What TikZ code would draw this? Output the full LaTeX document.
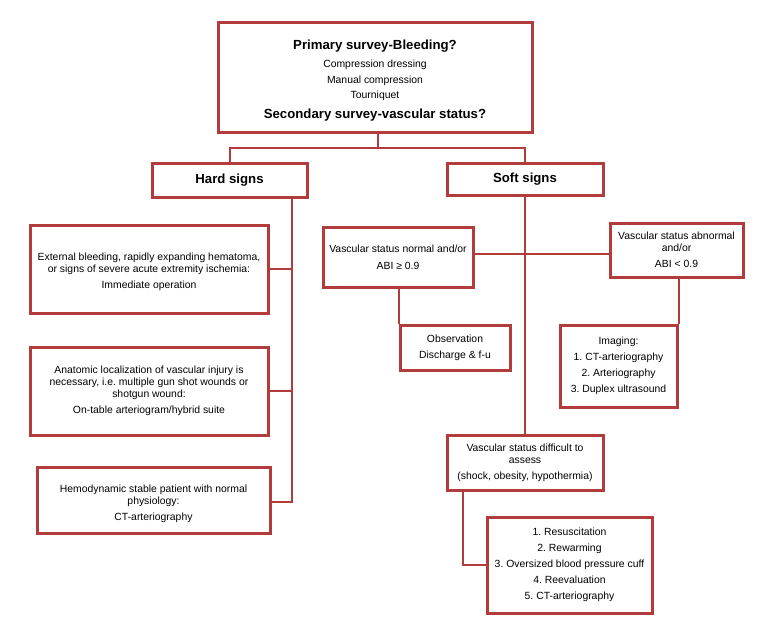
\documentclass[tikz,border=0pt]{standalone}
\usepackage{fontspec}
\setmainfont{Liberation Sans}
\usetikzlibrary{shadows}
\definecolor{boxred}{RGB}{178,60,60}
\newcommand\bodyf{\fontsize{10.4}{12}\selectfont\frenchspacing}
\newcommand\headf{\fontsize{13.2}{15}\selectfont\bfseries}
\tikzset{
  box/.style={draw=boxred, line width=3pt, fill=white, align=center, inner sep=0pt,
    font=\bodyf, drop shadow={shadow xshift=1.2pt, shadow yshift=-1.5pt, fill=black, opacity=0.35}},
  link/.style={draw=boxred, line width=2pt}
}
\begin{document}
\begin{tikzpicture}[x=1pt,y=-1pt]
\useasboundingbox (0,0) rectangle (763,635);
\coordinate (j1) at (378,148);
\coordinate (hb) at (292,502);
\coordinate (hl) at (525,254);
\coordinate (dc) at (463,565);

% boxes
\node[box, minimum width=314pt, minimum height=110pt] (top) at (375,77)
  {\rule{0pt}{17.5pt}{\headf Primary survey-Bleeding?}\\[6pt]
   Compression dressing\\[3.5pt]
   Manual compression\\[3.5pt]
   Tourniquet\\[8pt]
   {\headf Secondary survey-vascular status?}};
\node[box, minimum width=155pt, minimum height=34pt] (hard) at (229.5,180) {\headf Hard signs};
\node[box, minimum width=156pt, minimum height=32pt] (soft) at (525,179) {\headf Soft signs};

\node[box, minimum width=238pt, minimum height=88pt] (b1) at (149,269)
  {\rule{0pt}{13.5pt}External bleeding, rapidly expanding hematoma,\\
   or signs of severe acute extremity ischemia:\\[4pt]
   Immediate operation};
\node[box, minimum width=238pt, minimum height=88pt] (b2) at (149,391)
  {Anatomic localization of vascular injury is\\
   necessary, i.e. multiple gun shot wounds or\\
   shotgun wound:\\[4pt]
   On-table arteriogram/hybrid suite};
\node[box, minimum width=233pt, minimum height=66pt] (b3) at (153.5,500)
  {\rule{0pt}{15.5pt}Hemodynamic stable patient with normal\\
   physiology:\\[4pt]
   CT-arteriography};

\node[box, minimum width=150pt, minimum height=60pt] (norm) at (398,257)
  {Vascular status normal and/or\\[5pt]
   ABI \symbol{"2265} 0.9};
\node[box, minimum width=133pt, minimum height=54pt] (abn) at (676.5,250)
  {Vascular status abnormal\\
   and/or\\[4pt]
   ABI < 0.9};
\node[box, minimum width=110pt, minimum height=45pt] (obs) at (455,347.5)
  {Observation\\[4pt]
   Discharge \& f-u};
\node[box, minimum width=117pt, minimum height=82pt] (img) at (618.5,366)
  {Imaging:\\[4pt]
   1. CT-arteriography\\[4pt]
   2. Arteriography\\[4pt]
   3. Duplex ultrasound};
\node[box, minimum width=156pt, minimum height=55pt] (diff) at (525,462.5)
  {Vascular status difficult to\\
   assess\\[4pt]
   (shock, obesity, hypothermia)};
\node[box, minimum width=165pt, minimum height=96pt] (act) at (569.5,565)
  {1. Resuscitation\\[4pt]
   2. Rewarming\\[4pt]
   3. Oversized blood pressure cuff\\[4pt]
   4. Reevaluation\\[4pt]
   5. CT-arteriography};

% connectors
\draw[link] (top.south -| j1) -- (j1);
\draw[link] (hard.north) |- (j1) -| (soft.north);
\draw[link] (hard.south -| hb) -- (hb) -- (hb -| b3.east);
\draw[link] (b1.east) -- (b1.east -| hb);
\draw[link] (b2.east) -- (b2.east -| hb);
\draw[link] (soft.south) -- (diff.north);
\draw[link] (norm.east |- hl) -- (abn.west |- hl);
\draw[link] (norm.south -| obs.north west) -- (obs.north west);
\draw[link] (abn.south -| img.north east) -- (img.north east);
\draw[link] (diff.south -| dc) -- (dc) -- (act.west);
\end{tikzpicture}
\end{document}
